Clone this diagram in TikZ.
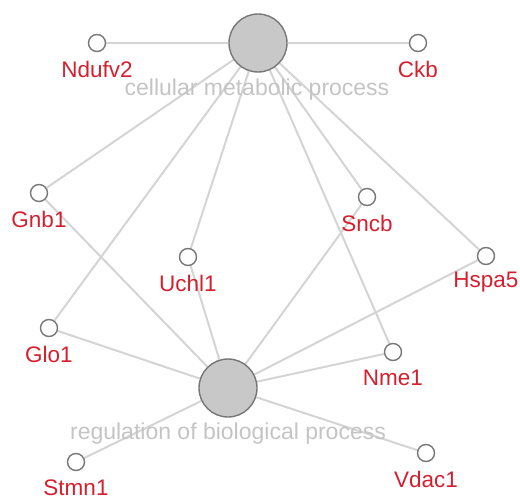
\documentclass[tikz,border=0pt]{standalone}
\usepackage{fontspec}
\setmainfont{Liberation Sans}
\usetikzlibrary{backgrounds}
\definecolor{edgegray}{HTML}{D4D4D4}
\definecolor{termgray}{HTML}{C4C4C4}
\definecolor{genered}{HTML}{D4202E}
\definecolor{hubfill}{HTML}{C8C8C8}
\definecolor{rimgray}{HTML}{777777}

\begin{document}
\begin{tikzpicture}[x=1pt,y=-1pt,
    hub/.style={circle,draw=rimgray,fill=hubfill,line width=1.4pt,minimum size=58pt,inner sep=0pt},
    gene/.style={circle,draw=rimgray,fill=white,line width=1.4pt,minimum size=17pt,inner sep=0pt},
    genelab/.style={text=genered,font=\fontsize{22.5}{25}\selectfont,inner sep=0pt},
    termlab/.style={text=termgray,font=\fontsize{23}{26}\selectfont,inner sep=0pt},
    link/.style={draw=edgegray,line width=2pt}]
      \useasboundingbox (0,0) rectangle (520,499);
      % the two GO terms
      \node[hub] (metab) at (258,43) {};
      \node[hub] (regul) at (228,388) {};
      % genes
      \node[gene] (Ndufv2) at (97,43) {};
      \node[gene] (Ckb) at (418,43) {};
      \node[gene] (Gnb1) at (39,193) {};
      \node[gene] (Uchl1) at (188,257) {};
      \node[gene] (Sncb) at (367,197) {};
      \node[gene] (Hspa5) at (486,256) {};
      \node[gene] (Glo1) at (49,328) {};
      \node[gene] (Nme1) at (393,352) {};
      \node[gene] (Stmn1) at (76,462) {};
      \node[gene] (Vdac1) at (426,453) {};
      % gene names
      \foreach \g in {Ndufv2,Ckb,Gnb1,Uchl1,Sncb,Hspa5,Glo1,Nme1,Stmn1,Vdac1}
        \node[genelab] (\g-l) at ([yshift=-26pt]\g.center) {\g};
      \node[termlab] (metab-l) at (257,90) {cellular metabolic process};
      \node[termlab] (regul-l) at (228,434) {regulation of biological process};
      \begin{scope}[on background layer]
        \foreach \g in {Ndufv2,Ckb,Gnb1,Uchl1,Sncb,Hspa5,Glo1,Nme1}
          \draw[link] (metab) -- (\g);
        \foreach \g in {Gnb1,Uchl1,Sncb,Hspa5,Glo1,Nme1,Stmn1,Vdac1}
          \draw[link] (regul) -- (\g);
      \end{scope}
    \end{tikzpicture}
\end{document}
